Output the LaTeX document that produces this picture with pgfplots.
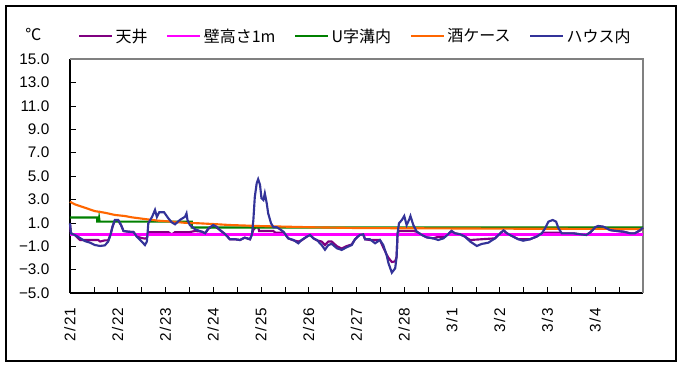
\documentclass[border=0pt]{standalone}
\usepackage{pgfplots}
\pgfplotsset{compat=1.18}
\usepackage{fontspec}
\setmainfont{Liberation Sans}
\newfontfamily\jp{Noto Sans CJK JP}
\definecolor{cTen}{RGB}{128,0,128}
\definecolor{cKabe}{RGB}{255,0,255}
\definecolor{cU}{RGB}{0,128,0}
\definecolor{cSake}{RGB}{255,102,0}
\definecolor{cHouse}{RGB}{51,51,153}
\newcommand{\dl}[2]{#1\kern1.2pt/\kern1.2pt#2}
\begin{document}
\begin{tikzpicture}[x=0.75pt,y=0.75pt]
\begin{axis}[
  at={(0,0)}, anchor=south west,
  scale only axis, width=429.75pt, height=175.5pt,
  xmin=0, xmax=12, ymin=-5, ymax=15,
  axis lines*=left,
  axis line style={black, line width=0.9pt},
  ytick={-5,-3,...,15},
  yticklabels={−5.0,−3.0,−1.0,1.0,3.0,5.0,7.0,9.0,11.0,13.0,15.0},
  xtick={0,...,11},
  xticklabels={\dl{2}{21},\dl{2}{22},\dl{2}{23},\dl{2}{24},\dl{2}{25},\dl{2}{26},\dl{2}{27},\dl{2}{28},\dl{3}{1},\dl{3}{2},\dl{3}{3},\dl{3}{4}},
  minor xtick={0.5,1.5,...,11.5},
  tick align=inside,
  major tick length=4.5pt, minor tick length=4.5pt,
  tick style={black, line width=0.6pt},
  ticklabel style={font=\fontsize{11.5}{13}\selectfont},
  yticklabel style={xshift=-12pt},
  xticklabel style={rotate=90, anchor=east},
  xticklabel shift=8pt,
  every tick/.style={black},
  legend columns=5,
  legend style={at={(rel axis cs:0,1)}, anchor=west, xshift=3pt, yshift=17pt,
    draw=none, fill=none, font=\jp\fontsize{12}{14}\selectfont,
    /tikz/every even column/.append style={column sep=12pt}},
  legend image code/.code={\draw[#1] (0pt,0pt) -- (24.5pt,0pt);},
  clip=false,
]
\draw[gray, line width=0.8pt] (rel axis cs:0,1) -- (rel axis cs:1,1) -- (rel axis cs:1,0);
% 天井
\addplot[cTen, line width=1.6pt] coordinates {
(0,0.9) (0.02,0.1) (0.1,-0.04) (0.21,-0.47) (0.59,-0.47) (0.63,-0.6) (0.73,-0.5) (0.80,-0.5)
(0.85,0) (0.89,0.67) (0.94,1.2) (1.01,1.2) (1.07,0.8) (1.12,0.3) (1.22,0.24) (1.33,0.21)
(1.40,-0.18) (1.50,-0.3) (1.57,-0.35) (1.61,-0.3) (1.64,0.2) (2.06,0.2) (2.13,0.0) (2.2,0.2)
(2.5,0.2) (2.62,0.3) (2.76,0.24) (2.83,0.1) (2.90,0.5) (3.00,0.75) (3.07,0.6) (3.14,0.38)
(3.25,0.02) (3.35,-0.41) (3.46,-0.41) (3.56,-0.47) (3.66,-0.27) (3.77,-0.41) (3.81,0)
(3.84,0.4) (3.9,0.65) (3.94,0.65) (3.96,0.3) (4.26,0.3) (4.3,0.15) (4.40,0.15) (4.47,0.2)
(4.57,-0.33) (4.68,-0.5) (4.78,-0.6) (4.85,-0.5) (4.96,-0.18) (5.03,-0.04) (5.10,-0.33)
(5.17,-0.5) (5.27,-0.6) (5.34,-0.9) (5.41,-0.6) (5.48,-0.6) (5.59,-1.0) (5.69,-1.2)
(5.79,-1.0) (5.90,-0.85) (5.97,-0.4) (6.04,-0.13) (6.07,-0.04) (6.14,0.02) (6.18,-0.41)
(6.28,-0.47) (6.49,-0.47) (6.56,-1.1) (6.63,-1.7) (6.67,-2.0) (6.74,-2.35) (6.81,-2.3)
(6.84,-1.9) (6.86,0.1) (6.89,0.3) (7.13,0.3) (7.19,0.3) (7.26,0.24) (7.37,-0.04)
(7.47,-0.24) (7.61,-0.33) (7.71,-0.2) (7.82,-0.2) (7.92,0.02) (7.99,0.3) (8.06,0.1)
(8.17,0.02) (8.27,-0.18) (8.38,-0.47) (8.90,-0.33) (9.01,0.1) (9.08,0.35) (9.15,0.1)
(9.28,-0.18) (9.39,-0.4) (9.49,-0.4) (9.63,-0.41) (9.77,-0.18) (9.88,0.1) (9.95,0.15)
(10.25,0.15) (10.30,0.1) (10.40,0.1) (10.54,0.1) (10.68,0.02) (10.81,-0.04) (10.89,0.16)
(11.00,0.6) (11.06,0.7) (11.17,0.65) (11.31,0.38) (11.45,0.3) (11.59,0.24) (11.73,0.1)
(11.83,0.1) (11.94,0.35) (12.0,0.55)
};
\addlegendentry{天井}
% 壁高さ1m
\addplot[cKabe, line width=1.6pt] coordinates {(0,0.0) (12,0.0)};
\addlegendentry{壁高さ1m}
% U字溝内
\addplot[cU, line width=1.6pt] coordinates {
(0,1.45) (0.57,1.45) (0.57,1.1) (0.6,1.1) (0.61,1.4) (0.62,1.1) (2.55,1.1) (2.55,0.6) (12,0.6)
};
\addlegendentry{U字溝内}
% 酒ケース
\addplot[cSake, line width=1.6pt] coordinates {
(0,2.8) (0.1,2.58) (0.31,2.29) (0.52,2.0) (0.73,1.86) (0.94,1.67) (1.15,1.58) (1.29,1.47)
(1.57,1.32) (1.85,1.18) (2.13,1.1) (2.41,1.0) (2.69,0.96) (2.97,0.9) (3.35,0.81) (3.98,0.72)
(5.03,0.62) (6.07,0.55) (7.33,0.53) (9.0,0.5) (12,0.47)
};
\addlegendentry{酒ケース}
% ハウス内
\addplot[cHouse, line width=1.6pt] coordinates {
(0,0.96) (0.02,0.1) (0.1,-0.04) (0.21,-0.3) (0.31,-0.56) (0.42,-0.7) (0.52,-0.9) (0.63,-0.98)
(0.73,-0.93) (0.80,-0.6) (0.85,0) (0.89,0.67) (0.94,1.24) (1.01,1.24) (1.07,0.8) (1.12,0.3)
(1.22,0.24) (1.33,0.21) (1.40,-0.18) (1.50,-0.6) (1.57,-0.9) (1.61,-0.6) (1.64,0.96)
(1.68,1.24) (1.72,1.52) (1.78,2.1) (1.82,1.5) (1.87,1.9) (1.97,1.9) (2.06,1.38) (2.13,1.04)
(2.20,0.87) (2.30,1.24) (2.41,1.52) (2.44,1.8) (2.46,1.24) (2.51,0.81) (2.62,0.44)
(2.76,0.24) (2.83,0.1) (2.90,0.53) (3.00,0.81) (3.07,0.67) (3.14,0.38) (3.25,0.02)
(3.35,-0.41) (3.46,-0.41) (3.56,-0.47) (3.66,-0.27) (3.77,-0.41) (3.81,0) (3.84,1.24)
(3.87,3.2) (3.91,4.38) (3.94,4.72) (3.98,4.23) (4.01,3.1) (4.05,2.95) (4.08,3.52)
(4.12,2.67) (4.15,1.81) (4.21,0.96) (4.26,0.62) (4.33,0.62) (4.40,0.44) (4.47,0.24)
(4.57,-0.33) (4.68,-0.47) (4.78,-0.75) (4.85,-0.47) (4.96,-0.18) (5.03,-0.04) (5.10,-0.33)
(5.17,-0.47) (5.27,-0.9) (5.34,-1.3) (5.41,-0.9) (5.48,-0.8) (5.59,-1.18) (5.69,-1.32)
(5.79,-1.1) (5.90,-0.9) (5.97,-0.4) (6.04,-0.13) (6.07,-0.04) (6.14,0.02) (6.18,-0.41)
(6.28,-0.41) (6.39,-0.75) (6.49,-0.47) (6.56,-0.9) (6.63,-1.75) (6.67,-2.46) (6.74,-3.26)
(6.81,-2.89) (6.84,-1.9) (6.86,0.1) (6.89,0.96) (6.95,1.24) (7.00,1.58) (7.05,0.81)
(7.10,1.24) (7.13,1.58) (7.19,0.81) (7.26,0.24) (7.37,-0.04) (7.47,-0.24) (7.61,-0.33)
(7.71,-0.47) (7.82,-0.33) (7.92,0.02) (7.99,0.3) (8.06,0.1) (8.17,0.02) (8.27,-0.18)
(8.38,-0.6) (8.52,-0.98) (8.62,-0.81) (8.76,-0.7) (8.90,-0.33) (9.01,0.1) (9.08,0.35)
(9.15,0.1) (9.28,-0.18) (9.39,-0.41) (9.49,-0.53) (9.63,-0.41) (9.77,-0.18) (9.88,0.1)
(9.95,0.53) (10.02,1.1) (10.11,1.24) (10.18,1.1) (10.23,0.53) (10.30,0.1) (10.40,0.1)
(10.54,0.1) (10.68,0.02) (10.81,-0.04) (10.89,0.16) (11.00,0.62) (11.06,0.73) (11.17,0.67)
(11.31,0.38) (11.45,0.3) (11.59,0.24) (11.73,0.1) (11.83,0.1) (11.94,0.38) (12.0,0.58)
};
\addlegendentry{ハウス内}
\end{axis}
\node[font=\jp\fontsize{12}{14}\selectfont] at (-36.5,258) {℃};
\draw[black, line width=0.8pt] (-64,-68) rectangle (606,287);
\pgfresetboundingbox
\path (-70,-74) rectangle (611,293);
\end{tikzpicture}
\end{document}
